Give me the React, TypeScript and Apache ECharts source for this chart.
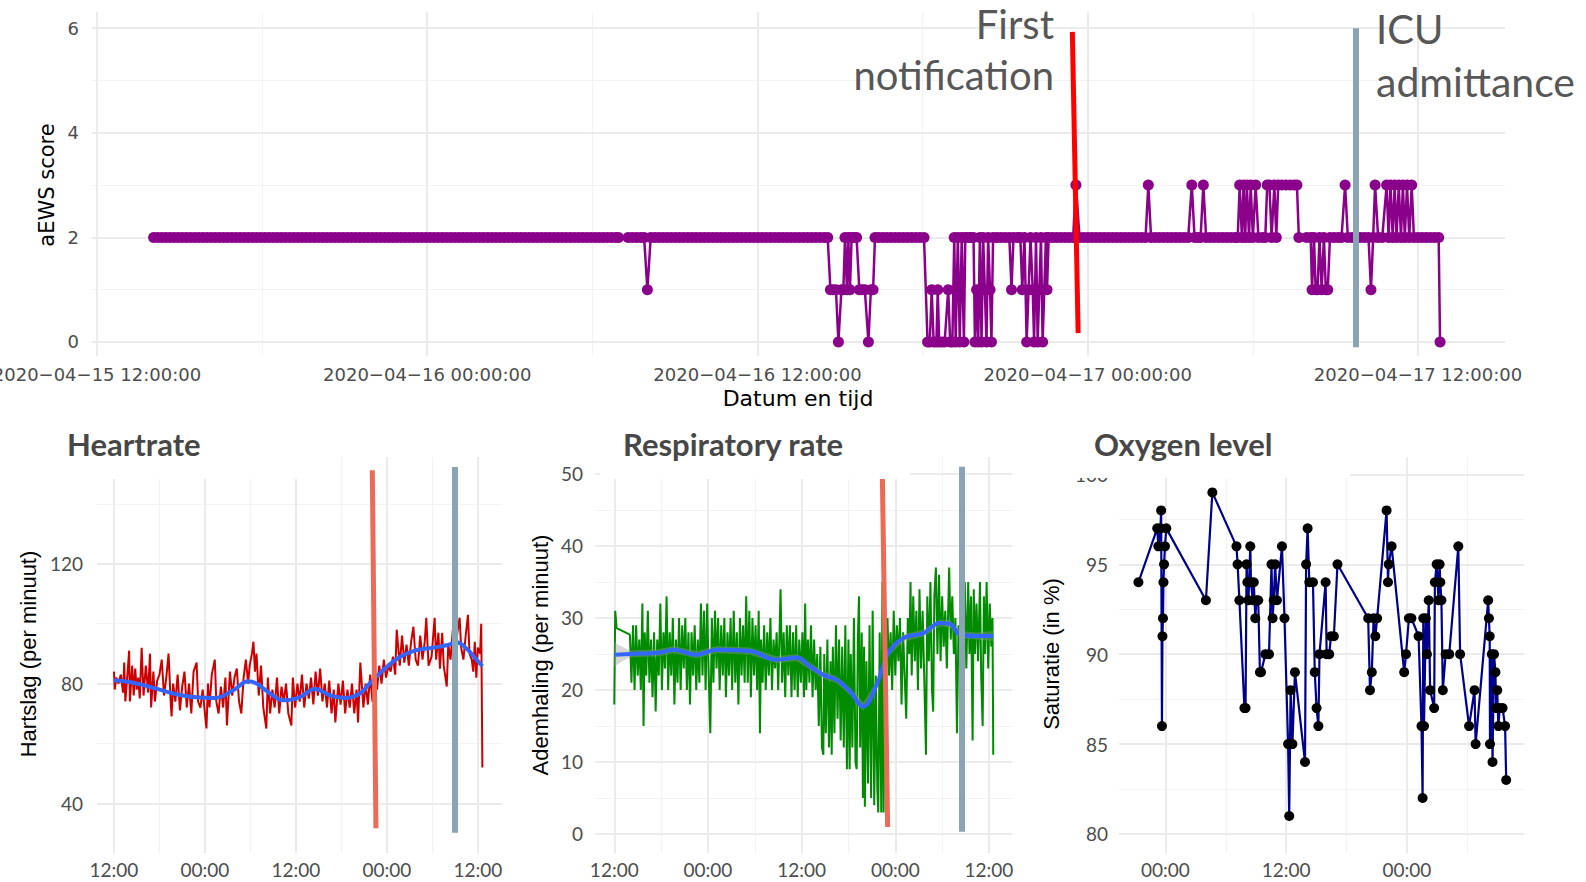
import React, { useEffect, useRef } from 'react';
import * as echarts from 'echarts';

// hours since 2020-04-15 12:00
const aewsScore: [number, number][] = [
  [2.06,2],[2.2,2],[2.35,2],[2.5,2],[2.65,2],[2.8,2],[2.95,2],[3.1,2],[3.25,2],[3.4,2],[3.55,2],[3.7,2],[3.85,2],[4.0,2],[4.15,2],[4.3,2],[4.45,2],[4.6,2],[4.75,2],[4.9,2],[5.05,2],[5.2,2],[5.35,2],[5.5,2],[5.65,2],[5.8,2],[5.95,2],[6.1,2],[6.25,2],[6.4,2],[6.55,2],[6.7,2],[6.85,2],[7.0,2],[7.15,2],[7.3,2],[7.45,2],[7.6,2],[7.75,2],[7.9,2],[8.05,2],[8.2,2],[8.35,2],[8.5,2],[8.65,2],[8.8,2],[8.95,2],[9.1,2],[9.25,2],[9.4,2],[9.55,2],[9.7,2],[9.85,2],[10.0,2],[10.15,2],[10.3,2],[10.45,2],[10.6,2],[10.75,2],[10.9,2],[11.05,2],[11.2,2],[11.35,2],[11.5,2],[11.65,2],[11.8,2],[11.95,2],[12.1,2],[12.25,2],[12.4,2],[12.55,2],[12.7,2],[12.85,2],[13.0,2],[13.15,2],[13.3,2],[13.45,2],[13.6,2],[13.75,2],[13.9,2],[14.05,2],[14.2,2],[14.35,2],[14.5,2],[14.65,2],[14.8,2],[14.95,2],[15.1,2],[15.25,2],[15.4,2],[15.55,2],[15.7,2],[15.85,2],[16.0,2],[16.15,2],[16.3,2],[16.45,2],[16.6,2],[16.75,2],[16.9,2],[17.05,2],[17.2,2],[17.35,2],[17.5,2],[17.65,2],[17.8,2],[17.95,2],[18.1,2],[18.25,2],[18.4,2],[18.55,2],[18.7,2],[18.85,2],[18.95,2],
  [19.3,2],[19.45,2],[19.6,2],[19.75,2],[19.88,2],[20.0,1],[20.12,2],[20.27,2],[20.42,2],[20.57,2],[20.72,2],[20.87,2],[21.02,2],[21.17,2],[21.32,2],[21.47,2],[21.62,2],[21.77,2],[21.92,2],[22.07,2],[22.22,2],[22.37,2],[22.52,2],[22.67,2],[22.82,2],[22.97,2],[23.12,2],[23.27,2],[23.42,2],[23.57,2],[23.72,2],[23.87,2],[24.02,2],[24.17,2],[24.32,2],[24.47,2],[24.62,2],[24.77,2],[24.92,2],[25.07,2],[25.22,2],[25.37,2],[25.52,2],[25.67,2],[25.82,2],[25.97,2],[26.12,2],[26.27,2],[26.42,2],[26.55,2],
  [26.65,1],[26.75,1],[26.85,1],[26.94,0],[27.05,1],[27.12,1],[27.18,2],[27.25,1],[27.3,2],[27.36,1],[27.42,2],[27.5,2],[27.6,2],[27.7,1],[27.8,1],[27.9,1],[28.03,0],[28.12,1],[28.2,1],[28.27,2],
  [28.4,2],[28.55,2],[28.7,2],[28.85,2],[29.0,2],[29.15,2],[29.3,2],[29.45,2],[29.6,2],[29.75,2],[29.9,2],[30.05,2],
  [30.18,0],[30.26,0],[30.33,1],[30.4,0],[30.5,0],[30.55,1],[30.6,0],[30.7,0],[30.8,0],[30.93,1],[31.0,0],[31.08,0],[31.15,2],[31.2,0],[31.28,2],[31.35,0],[31.42,2],[31.5,0],[31.55,2],[31.65,2],[31.75,2],[31.85,2],[31.9,0],[31.96,1],[32.02,0],[32.08,2],[32.14,0],[32.2,2],[32.26,1],[32.32,0],[32.38,2],[32.45,1],[32.5,0],[32.56,2],
  [32.7,2],[32.85,2],[33.0,2],[33.15,2],[33.23,1],[33.3,2],[33.45,2],[33.55,2],[33.62,1],[33.7,2],[33.78,0],[33.85,1],[33.92,2],[34.0,1],[34.05,0],[34.12,2],[34.18,0],[34.24,1],[34.3,2],[34.36,0],[34.42,1],[34.48,2],[34.52,1],[34.58,2],
  [34.72,2],[34.87,2],[35.02,2],[35.17,2],[35.32,2],[35.47,2],[35.57,3],[35.7,2],[35.85,2],[36.0,2],[36.15,2],[36.3,2],[36.45,2],[36.6,2],[36.75,2],[36.9,2],[37.05,2],[37.2,2],[37.35,2],[37.5,2],[37.65,2],[37.8,2],[37.95,2],[38.1,2],[38.2,3],[38.3,2],[38.45,2],[38.6,2],[38.75,2],[38.9,2],[39.05,2],[39.2,2],[39.35,2],[39.5,2],[39.65,2],[39.78,3],[39.88,2],[40.0,2],[40.1,2],[40.2,3],[40.3,2],[40.45,2],[40.6,2],[40.75,2],[40.9,2],[41.05,2],[41.2,2],[41.35,2],[41.45,2],
  [41.52,3],[41.6,2],[41.66,3],[41.72,2],[41.78,3],[41.86,2],[41.92,3],[42.0,2],[42.1,3],[42.2,2],[42.35,2],[42.45,2],[42.52,3],[42.6,3],[42.68,2],[42.78,3],[42.85,2],[42.92,3],[43.05,3],[43.2,3],[43.35,3],[43.5,3],[43.6,3],[43.67,2],
  [43.95,2],[44.1,2],[44.15,1],[44.22,2],[44.28,1],[44.35,1],[44.42,2],[44.5,1],[44.58,2],[44.65,1],[44.72,1],[44.8,2],[44.95,2],[45.1,2],[45.22,2],[45.35,3],[45.45,2],[45.6,2],[45.75,2],[45.9,2],[46.05,2],[46.2,2],[46.29,1],[46.37,2],[46.44,3],[46.55,2],[46.7,2],
  [46.86,3],[46.93,2],[47.0,3],[47.08,2],[47.15,3],[47.22,2],[47.3,3],[47.38,2],[47.45,3],[47.52,2],[47.6,3],[47.68,2],[47.77,3],[47.85,2],[48.0,2],[48.15,2],[48.3,2],[48.45,2],[48.6,2],[48.75,2],[48.8,0]
];

const hrTrace: [number, number][] = [
  [0.0,84],[0.1,78],[0.3,82],[0.6,80],[0.9,83],[1.2,77],[1.35,87],[1.5,74],[1.8,84],[2.0,91],[2.1,74],[2.4,86],[2.6,76],[2.8,85],[3.0,78],[3.2,82],[3.4,75],[3.65,92],[3.9,76],[4.2,86],[4.5,77],[4.75,90],[4.9,72],[5.2,84],[5.4,74],[5.7,81],[6.0,83],[6.3,88],[6.6,76],[6.9,82],[7.2,90],[7.5,73],[7.6,69],[7.8,80],[8.1,74],[8.4,83],[8.7,71],[9.0,79],[9.3,84],[9.6,72],[9.9,80],[10.2,70],[10.5,84],[10.9,87],[11.1,74],[11.4,72],[11.7,78],[12.0,70],[12.2,65],[12.4,80],[12.6,72],[12.9,83],[13.3,88],[13.5,74],[13.8,70],[14.1,79],[14.4,72],[14.7,82],[14.9,66],[15.3,84],[15.6,76],[15.9,82],[16.2,85],[16.5,74],[16.8,70],[17.1,82],[17.4,88],[17.7,80],[17.9,86],[18.2,90],[18.4,94],[18.6,84],[18.8,90],[19.1,76],[19.4,86],[19.7,72],[20.1,65],[20.3,82],[20.6,70],[20.9,78],[21.2,72],[21.5,82],[21.8,70],[22.1,79],[22.4,74],[22.7,80],[23.0,70],[23.4,66],[23.6,82],[23.9,72],[24.2,80],[24.5,74],[24.8,83],[25.1,72],[25.4,80],[25.7,75],[26.0,82],[26.3,73],[26.6,84],[26.9,76],[27.2,85],[27.5,74],[27.8,80],[28.1,72],[28.4,81],[28.7,70],[29.0,78],[29.2,67],[29.6,80],[29.9,73],[30.2,81],[30.5,70],[30.8,78],[31.1,72],[31.4,80],[31.7,70],[32.0,78],[32.2,67],[32.5,87],[32.9,72],[33.2,80],[33.5,73],[33.8,83],[34.1,74],[34.4,82],[34.7,78],[35.0,86],[35.3,80],[35.6,88],[35.9,82],[36.2,86],[36.5,84],[36.8,89],[37.1,83],[37.3,98],[37.7,86],[38.0,96],[38.3,87],[38.6,93],[38.9,86],[39.2,94],[39.5,99],[39.8,88],[40.1,86],[40.4,96],[40.7,88],[41.0,94],[41.2,102],[41.5,86],[41.9,89],[42.3,102],[42.5,88],[42.8,97],[43.0,85],[43.3,97],[43.5,86],[43.9,79],[44.1,93],[44.4,88],[44.7,98],[45.0,90],[45.3,97],[45.6,102],[45.8,92],[46.1,88],[46.4,96],[46.7,103],[46.9,90],[47.2,88],[47.4,84],[47.6,94],[47.8,82],[48.0,92],[48.3,90],[48.45,100],[48.6,52]
];

const hrSmooth: [number, number][] = [
  [0,81.1],[2.55,80.3],[4.75,78.9],[7.83,76.7],[10.9,75.4],[13.3,75.2],[15.74,77.8],[17.72,80.8],[18.82,80],[20.58,76.7],[22.3,74.4],[24.54,75.5],[26.5,78.2],[28.5,76.1],[30.5,75.2],[32.45,76.7],[33.8,80.2],[36.0,85.6],[37.7,88.9],[39.9,91.2],[42.1,92.0],[43.9,92.8],[45.2,93.8],[46.5,91.7],[47.6,88.7],[48.6,85.8]
];

const respTrace: [number, number][] = [
  [0.0,18],[0.12,31],[0.3,28.6],
  [2.0,27.7],[2.2,21],[2.4,29],[2.6,20],[2.8,29],[3.0,22],[3.2,27],[3.4,20],[3.6,32],[3.75,15],[3.9,28],[4.1,22],[4.3,31],[4.5,21],[4.7,27],[4.9,19],[5.1,28],[5.3,17],[5.5,27],[5.7,22],[5.9,32],[6.1,20],[6.3,28],[6.5,23],[6.7,33],[6.9,20],[7.1,28],[7.3,22],[7.5,30],[7.7,18],[7.9,27],[8.1,21],[8.3,30],[8.5,20],[8.7,29],[8.9,23],[9.1,30],[9.3,20],[9.5,28],[9.7,18],[9.9,28],[10.1,22],[10.3,29],[10.5,20],[10.7,27],[10.9,21],[11.1,32],[11.3,22],[11.5,31],[11.7,20],[11.9,32],[12.1,22],[12.3,14],[12.5,30],[12.7,21],[12.9,31],[13.1,23],[13.3,30],[13.5,20],[13.7,29],[13.9,22],[14.1,30],[14.3,19],[14.5,28],[14.7,22],[14.9,30],[15.1,20],[15.3,31],[15.5,21],[15.7,28],[15.9,18],[16.1,30],[16.3,22],[16.5,29],[16.7,21],[16.9,33],[17.1,21],[17.3,31],[17.5,19],[17.7,30],[17.9,22],[18.1,29],[18.3,20],[18.5,31],[18.66,14],[18.8,27],[19.0,21],[19.2,29],[19.4,20],[19.6,28],[19.8,22],[20.0,30],[20.2,20],[20.4,27],[20.6,23],[20.8,28],[21.0,20],[21.3,34],[21.5,21],[21.7,28],[21.9,19],[22.1,29],[22.3,22],[22.5,29],[22.7,19],[22.9,28],[23.1,20],[23.3,29],[23.5,19],[23.7,27],[23.9,21],[24.1,28],[24.3,19],[24.45,32],[24.6,20],[24.8,27],[25.0,21],[25.2,29],[25.4,19],[25.6,27],[25.8,20],[26.0,25],[26.2,15],[26.4,26],[26.6,12],[26.78,11],[26.9,25],[27.1,14],[27.3,27],[27.5,12],[27.7,24],[27.85,11],[28.0,26],[28.2,14],[28.4,29],[28.6,16],[28.8,27],[29.0,13],[29.2,26],[29.4,12],[29.6,29],[29.8,9],[30.0,27],[30.15,9],[30.3,25],[30.5,12],[30.7,30],[30.9,10],[31.05,9],[31.2,27],[31.35,33],[31.5,12],[31.7,28],[31.85,5],[32.0,26],[32.1,3.8],[32.3,24],[32.5,7],[32.7,29],[32.9,5],[33.1,31],[33.3,4],[33.5,22],[33.7,6],[33.82,3],[34.0,28],[34.2,3],[34.35,35],[34.5,3],[34.65,26],[34.8,21],[35.0,30],[35.2,22],[35.4,28],[35.6,20],[35.8,31],[36.0,22],[36.2,29],[36.4,24],[36.6,30],[36.8,18],[37.0,28],[37.2,22],[37.4,16],[37.6,30],[37.8,25],[37.95,35],[38.1,22],[38.3,33],[38.5,24],[38.7,31],[38.9,20],[39.1,34],[39.3,23],[39.5,31],[39.7,22],[39.93,11],[40.1,33],[40.3,24],[40.5,35],[40.7,20],[40.85,17],[41.0,33],[41.2,37],[41.4,25],[41.6,36],[41.8,24],[42.0,33],[42.2,26],[42.4,31],[42.6,23],[42.9,37],[43.1,27],[43.3,33],[43.5,25],[43.7,30],[43.9,14],[44.1,29],[44.3,24],[44.5,33],[44.7,25],[44.9,35],[45.1,23],[45.34,35],[45.5,25],[45.7,33],[45.9,13],[46.05,34],[46.2,25],[46.4,32],[46.6,24],[46.85,35],[47.0,22],[47.19,15],[47.35,33],[47.5,25],[47.7,35],[47.9,23],[48.1,32],[48.3,26],[48.45,30],[48.55,11]
];

const respSmooth: [number, number][] = [
  [0,24.9],[2.0,25.0],[5.85,25.2],[7.56,25.6],[10.55,24.9],[13.1,25.6],[17.4,25.4],[20.8,24.2],[23.36,24.5],[25.2,23.2],[26.78,22.1],[28.5,21.4],[30.2,19.8],[31.9,17.7],[33.6,20.7],[35.1,25.1],[37.0,27.2],[39.6,27.9],[41.7,29.3],[43.0,29.2],[44.3,27.7],[46.4,27.5],[48.55,27.5]
];

// [hour, lower, upper] of the smoother's confidence band
const respBand: [number, number, number][] = [
  [0,23.2,26.6],[1.0,24.0,26.0],[2.0,24.5,25.5],[5.85,24.7,25.7],[7.56,25.1,26.1],[10.55,24.4,25.4],[13.1,25.1,26.1],[17.4,24.9,25.9],[20.8,23.7,24.7],[23.36,24.0,25.0],[25.2,22.7,23.7],[26.78,21.6,22.6],[28.5,20.9,21.9],[30.2,19.3,20.3],[31.9,17.1,18.3],[33.6,20.1,21.3],[35.1,24.6,25.6],[37.0,26.7,27.7],[39.6,27.4,28.4],[41.7,28.8,29.8],[43.0,28.7,29.7],[44.3,27.2,28.2],[46.4,27.0,28.0],[48.55,26.8,28.2]
];

const oxygen: [number, number][] = [
  [9.31,94],[11.18,97],[11.29,96],[11.5,97],[11.57,98],[11.65,86],[11.7,91],[11.75,92],[11.8,94],[11.86,95],[11.95,96],[12.08,97],
  [16.02,93],[16.66,99],[19.06,96],[19.17,95],[19.35,93],[19.85,87],[19.96,87],[20.06,95],[20.14,94],[20.25,93],[20.43,96],[20.5,94],[20.68,93],[20.78,94],[20.93,92],[21.04,93],[21.22,93],[21.39,89],[21.5,89],[21.93,90],[22.29,90],[22.54,95],[22.65,92],[22.76,93],[22.9,95],[23.08,93],[23.58,96],[23.83,92],[24.19,85],[24.3,81],[24.44,88],[24.62,85],[24.87,89],[25.87,84],[25.98,95],[26.13,97],[26.3,94],[26.66,94],[26.84,89],[27.02,87],[27.2,86],[27.31,90],[27.92,94],[28.02,90],[28.28,90],[28.45,91],[28.74,91],[29.1,95],
  [32.15,92],[32.33,88],[32.51,89],[32.69,92],[32.86,91],[33.04,92],[33.98,98],[34.12,94],[34.19,95],[34.48,96],[35.73,89],[35.91,90],[36.2,92],[36.45,92],[37.16,91],[37.45,86],[37.56,82],[37.63,92],[37.7,86],[37.88,92],[37.99,90],[38.17,93],[38.31,88],[38.71,87],[38.78,94],[38.96,95],[39.14,93],[39.25,95],[39.32,94],[39.43,93],[39.57,88],[39.85,90],[40.21,90],[41.11,96],[41.29,90],[42.18,86],[42.72,88],[42.83,85],[44.08,93],[44.15,92],[44.23,91],[44.26,85],[44.44,90],[44.51,84],[44.66,90],[44.8,89],[44.87,87],[44.98,88],[45.09,86],[45.23,87],[45.51,87],[45.76,86],[45.87,83]
];

const topTickHours = [0, 12, 24, 36, 48];
const topTickLabels = ['2020\u221204\u221215 12:00:00', '2020\u221204\u221216 00:00:00', '2020\u221204\u221216 12:00:00', '2020\u221204\u221217 00:00:00', '2020\u221204\u221217 12:00:00'];
const panelTickHours = [0, 12, 24, 36, 48];
const panelTickLabels = ['12:00', '00:00', '12:00', '00:00', '12:00'];

const aewsTicks = [0, 2, 4, 6];
const hrTicks = [40, 80, 120];
const respTicks = [0, 10, 20, 30, 40, 50];
const oxyTicks = [80, 85, 90, 95, 100];

// event markers: [hourTop, valueTop, hourBottom, valueBottom]
const topNotification = [35.44, 5.93, 35.65, 0.17];
const topIcu = [45.75, 6.0, 45.75, -0.1];
const hrNotification = [34.08, 151.3, 34.56, 31.7];
const hrIcu = [45.0, 152.4, 45.0, 30.2];
const respNotification = [34.33, 50.6, 35.02, 0.97];
const respIcu = [44.5, 51.0, 44.5, 0.32];

const MAJOR = '#EBEBEB';
const MINOR = '#F3F3F3';
const TICK_COL = '#4D4D4D';

function gridLines(idx: number, vMaj: number[], vMin: number[], hMaj: number[], hMin: number[], xr: number, yr: number) {
  const d: any[] = [];
  vMin.forEach(v => d.push({ xAxis: v, lineStyle: { color: MINOR, width: 1.2, type: 'solid' } }));
  hMin.forEach(v => d.push({ yAxis: v, lineStyle: { color: MINOR, width: 1.2, type: 'solid' } }));
  vMaj.forEach(v => d.push({ xAxis: v, lineStyle: { color: MAJOR, width: 2, type: 'solid' } }));
  hMaj.forEach(v => d.push({ yAxis: v, lineStyle: { color: MAJOR, width: 2, type: 'solid' } }));
  return {
    type: 'line', xAxisIndex: idx, yAxisIndex: idx, z: 0, silent: true,
    data: [[xr, yr]], symbol: 'none', lineStyle: { opacity: 0 },
    markLine: { z: 0, silent: true, symbol: ['none', 'none'], label: { show: false }, emphasis: { disabled: true }, data: d },
  };
}

function marker(idx: number, m: number[], color: string, width: number) {
  return {
    type: 'line', xAxisIndex: idx, yAxisIndex: idx, z: 6, silent: true,
    data: [[m[0], m[1]]], symbol: 'none', lineStyle: { opacity: 0 },
    markLine: {
      z: 8, silent: true, symbol: ['none', 'none'], label: { show: false }, emphasis: { disabled: true },
      data: [[{ coord: [m[0], m[1]], lineStyle: { color, width, type: 'solid', cap: 'butt' } }, { coord: [m[2], m[3]] }]],
    },
  };
}

function xAxisDef(idx: number, min: number, max: number, hours: number[], labels: string[], font: string, size: number, margin: number) {
  return {
    type: 'value', gridIndex: idx, min, max,
    axisLine: { show: false }, axisTick: { show: false }, splitLine: { show: false },
    axisLabel: {
      customValues: hours, margin, color: TICK_COL, fontFamily: font, fontSize: size, hideOverlap: false,
      formatter: (v: number) => { const i = hours.indexOf(v); return i >= 0 ? labels[i] : ''; },
    },
  };
}

function yAxisDef(idx: number, min: number, max: number, ticks: number[], font: string, size: number, margin: number) {
  return {
    type: 'value', gridIndex: idx, min, max,
    axisLine: { show: false }, axisTick: { show: false }, splitLine: { show: false },
    axisLabel: { customValues: ticks, margin, color: TICK_COL, fontFamily: font, fontSize: size, formatter: (v: number) => String(v) },
  };
}

const DEJAVU = '"DejaVu Sans", sans-serif';
const LATO = 'Lato, "Open Sans", sans-serif';
const ARIAL = '"Liberation Sans", Arial, sans-serif';

export default function App() {
  const ref = useRef<HTMLDivElement>(null);
  useEffect(() => {
    if (!ref.current) return;
    const chart = echarts.init(ref.current, null, { renderer: 'svg' });
    const option: any = {
      animation: false,
      backgroundColor: '#ffffff',
      grid: [
        { left: 92, top: 12, width: 1413, height: 344, outerBoundsMode: 'none', containLabel: false },
        { left: 97, top: 457, width: 405, height: 396, outerBoundsMode: 'none', containLabel: false },
        { left: 595, top: 457, width: 417, height: 396, outerBoundsMode: 'none', containLabel: false },
        { left: 1119, top: 457, width: 405, height: 396, outerBoundsMode: 'none', containLabel: false },
      ],
      xAxis: [
        xAxisDef(0, -0.18, 51.16, topTickHours, topTickLabels, DEJAVU, 18, 9),
        xAxisDef(1, -2.24, 51.19, panelTickHours, panelTickLabels, LATO, 19, 7),
        xAxisDef(2, -2.47, 50.95, panelTickHours, panelTickLabels, LATO, 19, 7),
        xAxisDef(3, 7.38, 47.64, panelTickHours, panelTickLabels, LATO, 19, 7),
      ],
      yAxis: [
        yAxisDef(0, -0.268, 6.31, aewsTicks, DEJAVU, 18, 13),
        yAxisDef(1, 23.4, 155.7, hrTicks, LATO, 19, 14),
        yAxisDef(2, -2.64, 52.36, respTicks, LATO, 19, 12),
        yAxisDef(3, 78.94, 100.97, oxyTicks, LATO, 19, 11),
      ],
      series: [
        gridLines(0, [0, 12, 24, 36, 48], [6, 18, 30, 42], [0, 2, 4, 6], [1, 3, 5], 10, 2),
        gridLines(1, [0, 12, 24, 36, 48], [6, 18, 30, 42], [40, 80, 120], [60, 100, 140], 10, 80),
        gridLines(2, [0, 12, 24, 36, 48], [6, 18, 30, 42], [0, 10, 20, 30, 40, 50], [5, 15, 25, 35, 45], 10, 20),
        gridLines(3, [12, 24, 36], [18, 30, 42], [80, 85, 90, 95, 100], [82.5, 87.5, 92.5, 97.5], 20, 90),
        {
          name: 'aEWS score', type: 'line', xAxisIndex: 0, yAxisIndex: 0, z: 3, data: aewsScore,
          symbol: 'circle', symbolSize: 11, showAllSymbol: true,
          itemStyle: { color: '#8B008B', borderWidth: 0 }, lineStyle: { color: '#8B008B', width: 2.5 },
        },
        {
          name: 'Hartslag', type: 'line', xAxisIndex: 1, yAxisIndex: 1, z: 3, data: hrTrace,
          symbol: 'none', lineStyle: { color: '#CD0000', width: 2 },
        },
        {
          name: 'Hartslag trend', type: 'line', xAxisIndex: 1, yAxisIndex: 1, z: 4, data: hrSmooth,
          symbol: 'none', smooth: 0.4, lineStyle: { color: '#3366FF', width: 4 },
        },
        {
          name: 'Ademhaling', type: 'line', xAxisIndex: 2, yAxisIndex: 2, z: 3, data: respTrace,
          symbol: 'none', lineStyle: { color: '#008B00', width: 2 },
        },
        {
          name: 'Ademhaling band', type: 'custom', xAxisIndex: 2, yAxisIndex: 2, z: 3.5, silent: true,
          data: [[0, 25]],
          renderItem: (params: any, api: any) => {
            if (params.dataIndex !== 0) return null;
            const upper = respBand.map(b => api.coord([b[0], b[2]]));
            const lower = respBand.slice().reverse().map(b => api.coord([b[0], b[1]]));
            return { type: 'polygon', shape: { points: upper.concat(lower) }, style: { fill: 'rgba(153,153,153,0.4)' } };
          },
        },
        {
          name: 'Ademhaling trend', type: 'line', xAxisIndex: 2, yAxisIndex: 2, z: 4, data: respSmooth,
          symbol: 'none', smooth: 0.4, lineStyle: { color: '#3366FF', width: 4 },
        },
        {
          name: 'Saturatie', type: 'line', xAxisIndex: 3, yAxisIndex: 3, z: 3, data: oxygen,
          symbol: 'circle', symbolSize: 10, showAllSymbol: true,
          itemStyle: { color: '#000000', borderWidth: 0 }, lineStyle: { color: '#00008B', width: 2.2 },
        },
        marker(0, topNotification, '#FF0000', 5),
        marker(0, topIcu, '#8AA4B4', 6),
        marker(1, hrNotification, '#EB6B56', 5),
        marker(1, hrIcu, '#8AA4B4', 6),
        marker(2, respNotification, '#EB6B56', 5),
        marker(2, respIcu, '#8AA4B4', 6),
      ],
      graphic: [
        { type: 'rect', z: 100, shape: { x: 0, y: 405, width: 330, height: 74 }, style: { fill: '#ffffff' } },
        { type: 'rect', z: 100, shape: { x: 600, y: 405, width: 310, height: 74 }, style: { fill: '#ffffff' } },
        { type: 'rect', z: 100, shape: { x: 1060, y: 405, width: 290, height: 73 }, style: { fill: '#ffffff' } },
        { type: 'text', z: 101, x: 67, y: 444, style: { text: 'Heartrate', font: `bold 31px ${LATO}`, fill: '#474747', textAlign: 'left', textVerticalAlign: 'middle' } },
        { type: 'text', z: 101, x: 623, y: 444, style: { text: 'Respiratory rate', font: `bold 31px ${LATO}`, fill: '#474747', textAlign: 'left', textVerticalAlign: 'middle' } },
        { type: 'text', z: 101, x: 1094, y: 444, style: { text: 'Oxygen level', font: `bold 31px ${LATO}`, fill: '#474747', textAlign: 'left', textVerticalAlign: 'middle' } },
        { type: 'text', z: 101, x: 1054, y: 24, style: { text: 'First', font: `40px ${LATO}`, fill: '#575757', textAlign: 'right', textVerticalAlign: 'middle' } },
        { type: 'text', z: 101, x: 1054, y: 75, style: { text: 'notification', font: `40px ${LATO}`, fill: '#575757', textAlign: 'right', textVerticalAlign: 'middle' } },
        { type: 'text', z: 101, x: 1376, y: 29, style: { text: 'ICU', font: `40px ${LATO}`, fill: '#575757', textAlign: 'left', textVerticalAlign: 'middle' } },
        { type: 'text', z: 101, x: 1376, y: 81, style: { text: 'admittance', font: `41px ${LATO}`, fill: '#575757', textAlign: 'left', textVerticalAlign: 'middle' } },
        { type: 'text', z: 101, x: 798, y: 398, style: { text: 'Datum en tijd', font: `22px ${DEJAVU}`, fill: '#000000', textAlign: 'center', textVerticalAlign: 'middle' } },
        { type: 'text', z: 101, x: 47, y: 185, rotation: Math.PI / 2, style: { text: 'aEWS score', font: `21px ${DEJAVU}`, fill: '#000000', textAlign: 'center', textVerticalAlign: 'middle' } },
        { type: 'text', z: 101, x: 28, y: 654, rotation: Math.PI / 2, style: { text: 'Hartslag (per minuut)', font: `22px ${ARIAL}`, fill: '#000000', textAlign: 'center', textVerticalAlign: 'middle' } },
        { type: 'text', z: 101, x: 540, y: 655, rotation: Math.PI / 2, style: { text: 'Ademhaling (per minuut)', font: `22px ${ARIAL}`, fill: '#000000', textAlign: 'center', textVerticalAlign: 'middle' } },
        { type: 'text', z: 101, x: 1051, y: 654, rotation: Math.PI / 2, style: { text: 'Saturatie (in %)', font: `22px ${ARIAL}`, fill: '#000000', textAlign: 'center', textVerticalAlign: 'middle' } },
      ],
    };
    chart.setOption(option);
    return () => chart.dispose();
  }, []);
  return <div ref={ref} style={{ position: 'fixed', left: 0, top: 0, width: 1586, height: 882, background: '#ffffff' }} />;
}
